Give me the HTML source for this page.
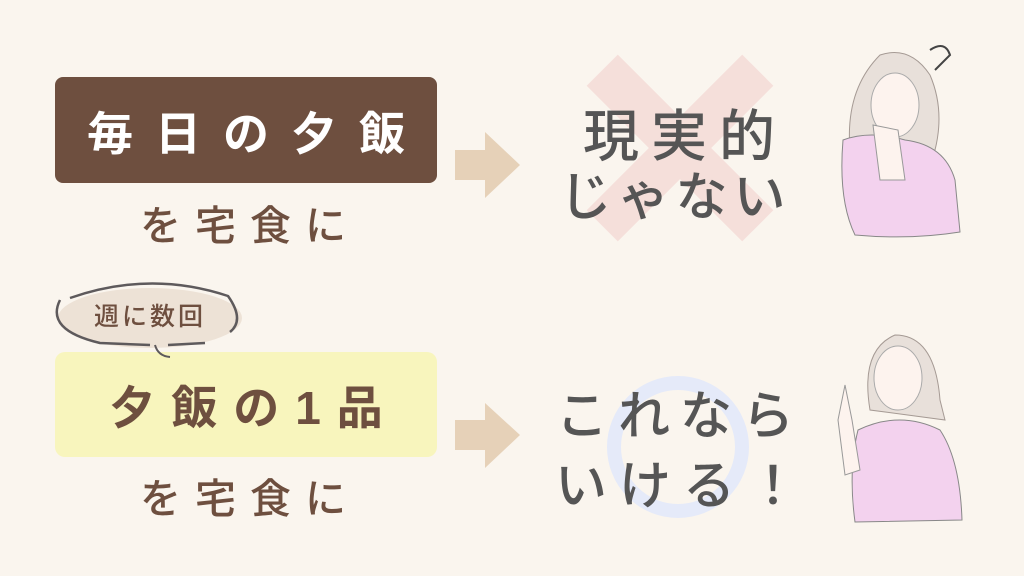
<!DOCTYPE html>
<html><head><meta charset="utf-8"><style>
body{margin:0;width:1024px;height:576px;background:#faf5ee;position:relative;overflow:hidden;font-family:"Liberation Sans","Noto Sans CJK JP",sans-serif;font-weight:bold}
.t{position:absolute;white-space:nowrap;text-align:center}
.m{font-family:"Noto Sans CJK JP",sans-serif;font-weight:500}
</style></head><body>
<svg width="1024" height="576" style="position:absolute;left:0;top:0">
<rect x="55" y="77" width="382" height="106" rx="8" fill="#6e4f3f"/>
<rect x="55" y="352" width="382" height="105" rx="10" fill="#f8f5bd"/>
<polygon points="455,150 485,150 485,132 520,165 485,198 485,180 455,180" fill="#e6d1b8"/>
<polygon points="455,420 485,420 485,403 520,435 485,468 485,450 455,450" fill="#e6d1b8"/>
<g transform="translate(680,148) rotate(45)" fill="#f5dfda"><rect x="-110" y="-22" width="220" height="44"/><rect x="-22" y="-110" width="44" height="220"/></g>
<circle cx="678" cy="447" r="64" fill="none" stroke="#e5eaf9" stroke-width="14"/>
<ellipse cx="150" cy="318" rx="92" ry="30" fill="#ede2d6"/>
<path d="M70 298 Q150 270 228 296 Q245 320 230 332 M60 300 Q45 330 100 343 L150 345 M168 345 L205 343" fill="none" stroke="#5e5a5c" stroke-width="2.5"/>
<path d="M155 345 Q158 356 170 357" fill="none" stroke="#5e5a5c" stroke-width="2"/>
<path d="M850 150 Q845 90 880 55 Q910 45 930 75 Q945 110 935 150 Z" fill="#e8e0da" stroke="#a59a94"/>
<ellipse cx="895" cy="105" rx="24" ry="32" fill="#fdf3ee" stroke="#aaa"/>
<path d="M843 140 Q870 130 905 140 Q945 145 955 180 L960 232 Q910 240 855 235 Q838 200 843 140Z" fill="#f3d2ee" stroke="#888"/>
<path d="M873 125 L880 180 L905 180 L898 130Z" fill="#fdf3ee" stroke="#999"/>
<path d="M930 50 Q945 40 950 55 L935 70" fill="none" stroke="#444" stroke-width="2"/>
<path d="M870 410 Q860 350 895 335 Q935 335 940 400 L945 420 Z" fill="#e8e0da" stroke="#a59a94"/>
<ellipse cx="898" cy="378" rx="24" ry="32" fill="#fdf3ee" stroke="#aaa"/>
<path d="M858 430 Q900 410 940 430 Q960 460 962 520 L855 522 Q848 470 858 430Z" fill="#f3d2ee" stroke="#888"/>
<path d="M838 420 L845 385 L852 420 L860 470 L845 475Z" fill="#fdf3ee" stroke="#999"/>
</svg>
<div class="t" style="left:55px;width:382px;top:98px;font-size:46px;letter-spacing:22px;color:#fff;padding-left:22px;box-sizing:border-box">毎日の夕飯</div>
<div class="t" style="left:55px;width:382px;top:372px;font-size:46px;letter-spacing:16px;color:#6e4f3f;padding-left:16px;box-sizing:border-box">夕飯の1品</div>
<div class="t m" style="left:90px;width:320px;top:192px;font-size:41px;letter-spacing:14px;color:#6e4f3f">を宅食に</div>
<div class="t m" style="left:90px;width:320px;top:465px;font-size:41px;letter-spacing:14px;color:#6e4f3f">を宅食に</div>
<div class="t m" style="left:65px;width:170px;top:297px;font-size:25px;letter-spacing:3px;color:#6e4f3f">週に数回</div>
<div class="t m" style="left:575px;width:220px;top:92px;font-size:56px;letter-spacing:12px;color:#555">現実的</div>
<div class="t m" style="left:558px;width:235px;top:155px;font-size:52px;letter-spacing:6px;color:#555">じゃない</div>
<div class="t m" style="left:555px;width:250px;top:374px;font-size:52px;letter-spacing:10px;color:#555">これなら</div>
<div class="t m" style="left:555px;width:240px;top:444px;font-size:52px;letter-spacing:12px;color:#555">いける！</div>
</body></html>
